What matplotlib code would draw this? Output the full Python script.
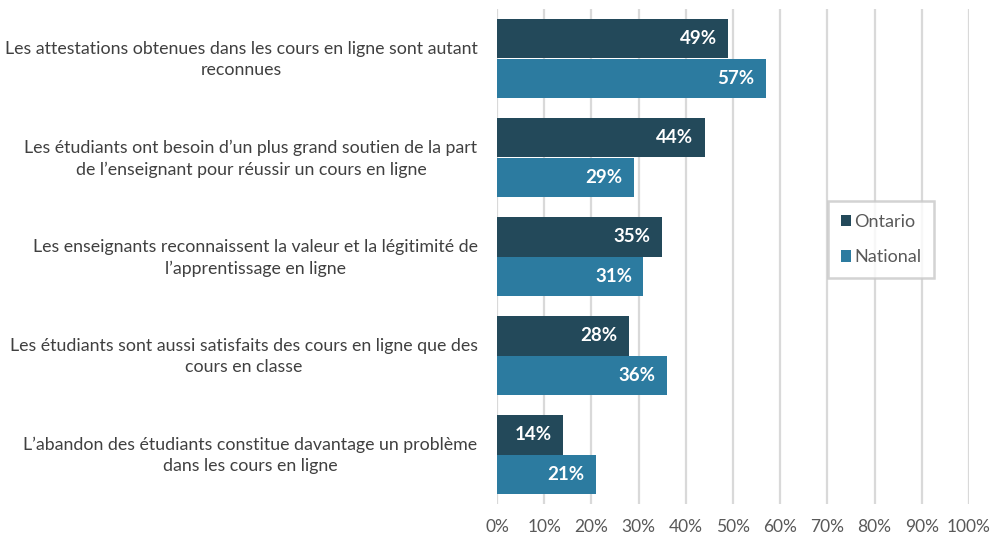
import matplotlib.pyplot as plt
import numpy as np

# data
categories = [
    "Les attestations obtenues dans les cours en ligne sont autant\nreconnues",
    "Les étudiants ont besoin d’un plus grand soutien de la part\nde l’enseignant pour réussir un cours en ligne",
    "Les enseignants reconnaissent la valeur et la légitimité de\nl’apprentissage en ligne",
    "Les étudiants sont aussi satisfaits des cours en ligne que des\ncours en classe",
    "L’abandon des étudiants constitue davantage un problème\ndans les cours en ligne",
]
ontario = [49, 44, 35, 28, 14]
national = [57, 29, 31, 36, 21]
series_names = ["Ontario", "National"]
ticks = [0, 10, 20, 30, 40, 50, 60, 70, 80, 90, 100]

plt.rcParams['font.family'] = ['Lato', 'DejaVu Sans']

fig = plt.figure(figsize=(10.03, 5.38), dpi=100)
# plot area in pixels: x 497..969, y 9..504
ax = fig.add_axes([497 / 1003, 34 / 538, 472 / 1003, 495 / 538])

y = np.arange(len(categories))
h = 0.4
c_ont = "#23495A"
c_nat = "#2C7BA0"

b1 = ax.barh(y - h / 2, ontario, height=h, color=c_ont, label=series_names[0], zorder=3)
b2 = ax.barh(y + h / 2, national, height=h, color=c_nat, label=series_names[1], zorder=3)

for bars, vals in [(b1, ontario), (b2, national)]:
    for bar, v in zip(bars, vals):
        ax.text(v - 2.4, bar.get_y() + bar.get_height() / 2, f"{v}%",
                ha="right", va="center", color="white", fontsize=13.5,
                fontweight="bold", zorder=4)

ax.set_xlim(0, 100)
ax.set_ylim(len(categories) - 0.5, -0.5)
ax.set_xticks(ticks)
ax.set_xticklabels([f"{t}%" for t in ticks], fontsize=12.5, color="#595959")
ax.set_yticks(y - 0.03)
ax.set_yticklabels(categories, fontsize=12.75, color="#404040",
                   multialignment="center", linespacing=1.4)
ax.tick_params(axis="both", length=0)
ax.tick_params(axis="y", pad=14)
ax.tick_params(axis="x", pad=11)

ax.grid(axis="x", color="#d9d9d9", linewidth=1.6, zorder=0)
for s in ax.spines.values():
    s.set_visible(False)

leg = ax.legend(loc="upper left", bbox_to_anchor=(331 / 472, (504 - 201) / 495),
                fontsize=13, frameon=True, fancybox=False, handlelength=0.6,
                handleheight=0.6, handletextpad=0.15, labelspacing=1.1,
                borderpad=0.7, borderaxespad=0, labelcolor="#595959")
leg.get_frame().set_edgecolor("#c8c8c8")
leg.get_frame().set_linewidth(1.8)

fig.savefig("out.png", dpi=100)
